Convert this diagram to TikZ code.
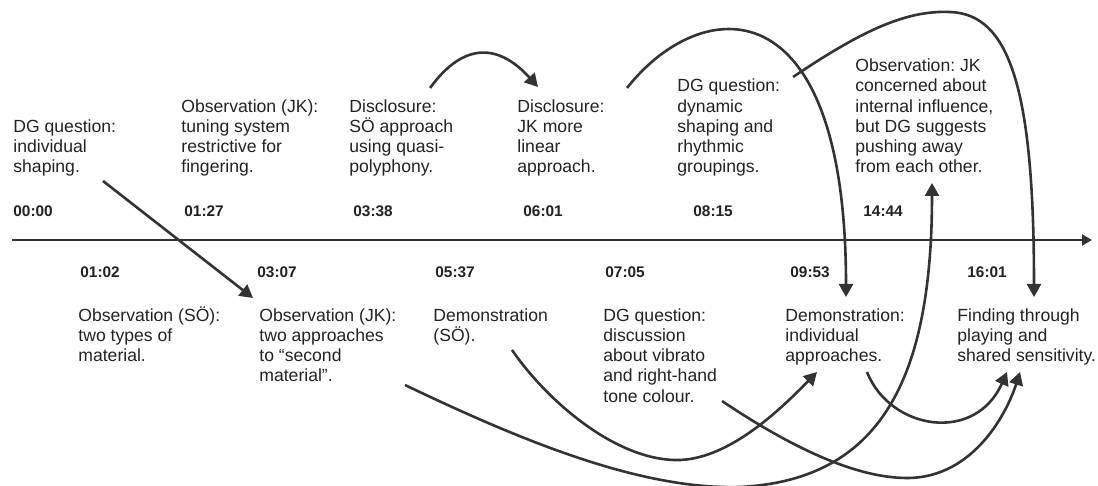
\documentclass[tikz,border=0pt]{standalone}
\usepackage{fontspec}
\setmainfont{Liberation Sans}
\usetikzlibrary{arrows.meta}
\frenchspacing

\definecolor{ink}{HTML}{222222}
\definecolor{linkgray}{HTML}{333333}
\newcommand{\eventfont}{\fontsize{8.8}{10.15}\selectfont}
\newcommand{\stampfont}{\fontsize{7.7}{9}\selectfont\bfseries}

\begin{document}
\begin{tikzpicture}[x=0.5pt, y=-0.5pt,
  event/.style={anchor=base west, align=left, inner sep=0pt, text=ink, font=\eventfont},
  stamp/.style={anchor=base west, inner sep=0pt, text=ink, font=\stampfont},
  link/.style={line width=1.3pt, draw=linkgray, -{Triangle[length=6.5pt, width=7pt]}},
  timeline/.style={line width=1.2pt, draw=linkgray, -{Triangle[length=5pt, width=5.5pt]}}]
  \useasboundingbox (0,0) rectangle (1098,486);

  % --- timeline ---
  \coordinate (tstart) at (12,240);
  \coordinate (tend) at (1092,240);
  \draw[timeline] (tstart) -- (tend);

  % --- above the line (placed by last baseline) ---
  \node[event] (dgShape) at (13,173) {DG question:\\individual\\shaping.};
  \node[event] (obsTuning) at (181,173) {Observation (JK):\\tuning system\\restrictive for\\fingering.};
  \node[event] (discSO) at (349,173) {Disclosure:\\SÖ approach\\using quasi-\\polyphony.};
  \node[event] (discJK) at (517,173) {Disclosure:\\JK more\\linear\\approach.};
  \node[event] (dgDynamic) at (677,173) {DG question:\\dynamic\\shaping and\\rhythmic\\groupings.};
  \node[event] (obsConcern) at (855,173) {Observation: JK\\concerned about\\internal influence,\\but DG suggests\\pushing away\\from each other.};

  \node[stamp] (s0000) at (13,217) {00:00};
  \node[stamp] (s0127) at (184,217) {01:27};
  \node[stamp] (s0338) at (353,217) {03:38};
  \node[stamp] (s0601) at (523,217) {06:01};
  \node[stamp] (s0815) at (693,217) {08:15};
  \node[stamp] (s1444) at (863,217) {14:44};

  % --- below the line ---
  \node[stamp] (s0102) at (80,278) {01:02};
  \node[stamp] (s0307) at (257,278) {03:07};
  \node[stamp] (s0537) at (435,278) {05:37};
  \node[stamp] (s0705) at (605,278) {07:05};
  \node[stamp] (s0953) at (790,278) {09:53};
  \node[stamp] (s1601) at (967,278) {16:01};

  \node[event] (obsMaterial) at (78,361.6) {Observation (SÖ):\\two types of\\material.};
  \node[event] (obsTwo) at (259,381.9) {Observation (JK):\\two approaches\\to “second\\material”.};
  \node[event] (demoSO) at (433,341.3) {Demonstration\\(SÖ).};
  \node[event] (dgVibrato) at (603,402.2) {DG question:\\discussion\\about vibrato\\and right-hand\\tone colour.};
  \node[event] (demoInd) at (785,361.6) {Demonstration:\\individual\\approaches.};
  \node[event] (finding) at (957,361.6) {Finding through\\playing and\\shared sensitivity.};

  % --- links ---
  \coordinate (outShape) at (103,181);
  \coordinate (inTwo) at (253,298);
  \coordinate (outSO) at (430,88);
  \coordinate (inJK) at (538,87);
  \coordinate (outJK) at (627,88);
  \coordinate (inDemo) at (846,297);
  \coordinate (outDynamic) at (793,77);
  \coordinate (inFinding) at (1034,297);
  \coordinate (outTwo) at (405,385);
  \coordinate (inConcern) at (932,183);
  \coordinate (outDemoSO) at (512,350);
  \coordinate (inDemoLow) at (817,372);
  \coordinate (outVibrato) at (722,401);
  \coordinate (inFindingA) at (1020,372);
  \coordinate (outDemoInd) at (867,372);
  \coordinate (inFindingB) at (1007,372);

  \draw[link] (outShape) -- (inTwo);
  \draw[link] (outSO) .. controls +(35,-48) and +(-38,-42) .. (inJK);
  \draw[link] (outJK) .. controls +(73,-93) and +(0,-317) .. (inDemo);
  \draw[link] (outDynamic) .. controls +(67,-45) and +(-45,-2) .. (950,12)
    .. controls +(60,2) and +(0,-207) .. (inFinding);
  \draw[link] (outTwo) .. controls +(115,55) and +(-100,3) .. (740,487)
    .. controls +(140,-7) and +(0,197) .. (inConcern);
  \draw[link] (outDemoSO) .. controls +(38,55) and +(-60,2) .. (680,460)
    .. controls +(50,-2) and +(-37,38) .. (inDemoLow);
  \draw[link] (outVibrato) .. controls +(58,39) and +(-57,0) .. (907,478)
    .. controls +(68,0) and +(-12,38) .. (inFindingA);
  \draw[link] (outDemoInd) .. controls +(23,58) and +(-32,72) .. (inFindingB);
\end{tikzpicture}
\end{document}
